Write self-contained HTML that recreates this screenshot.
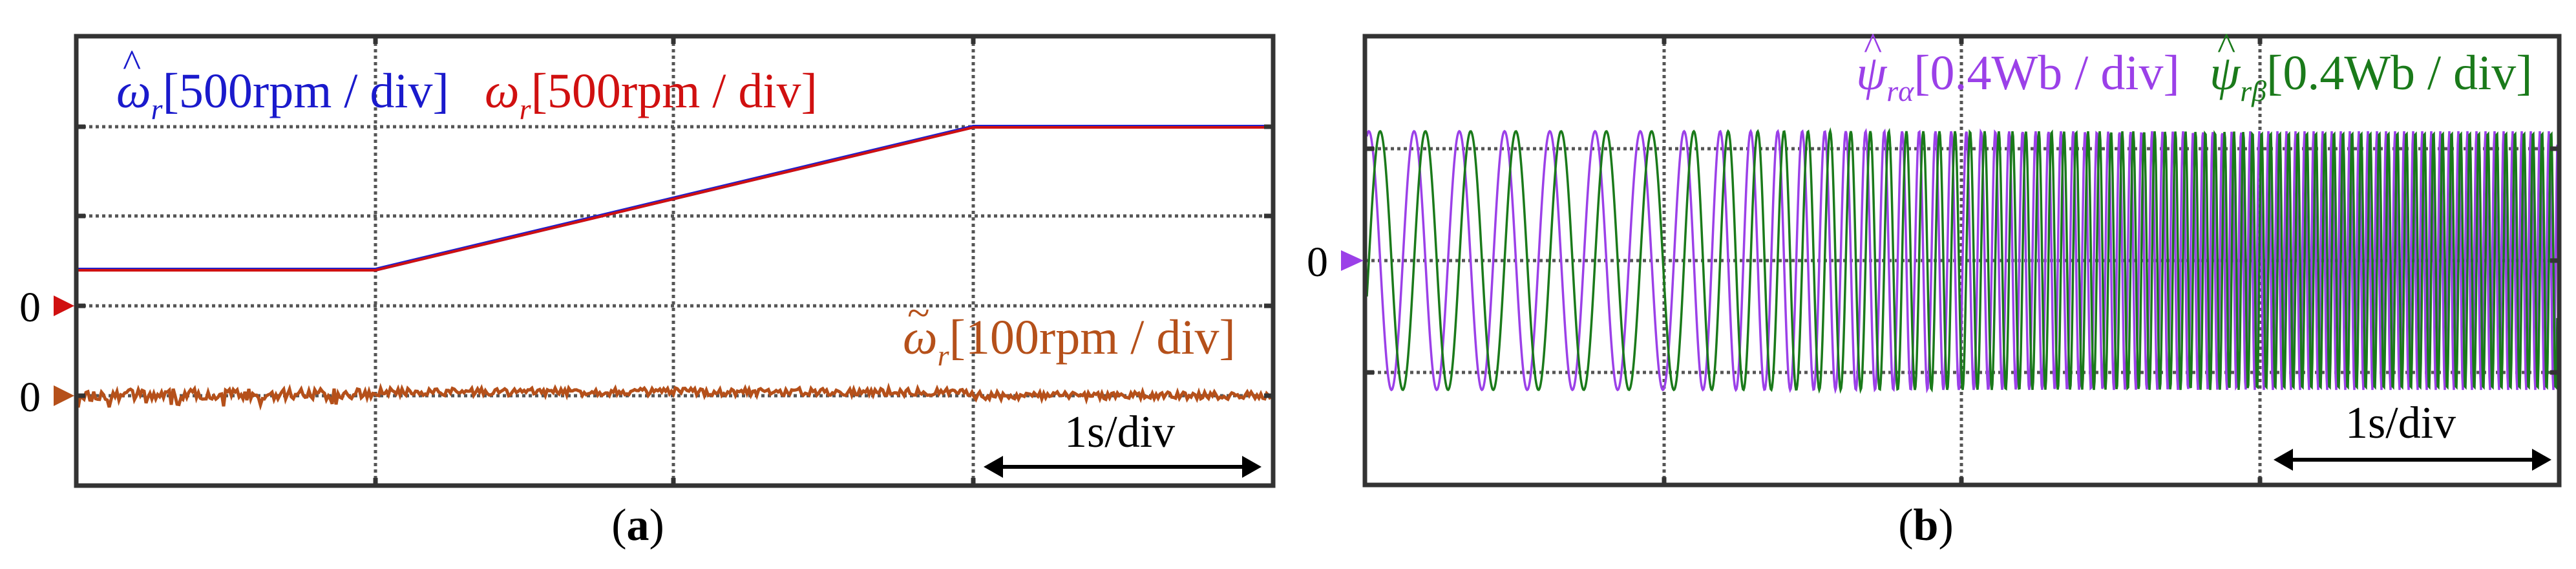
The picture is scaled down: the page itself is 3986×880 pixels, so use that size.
<!DOCTYPE html>
<html><head><meta charset="utf-8"><style>
html,body{margin:0;padding:0;background:#fff;}
svg{display:block;}
text{font-family:"Liberation Serif",serif;}
</style></head><body>
<svg id="s" width="3986" height="880" viewBox="0 0 3986 880" xmlns="http://www.w3.org/2000/svg">
<g stroke="#555" stroke-width="5" stroke-dasharray="5 5">
<line x1="581" y1="56" x2="581" y2="751"/><line x1="1042" y1="56" x2="1042" y2="751"/><line x1="1506" y1="56" x2="1506" y2="751"/>
<line x1="118" y1="196" x2="1970" y2="196"/><line x1="118" y1="334" x2="1970" y2="334"/><line x1="118" y1="473" x2="1970" y2="473"/><line x1="118" y1="612" x2="1970" y2="612"/>
<line x1="2575" y1="56" x2="2575" y2="750"/><line x1="3035" y1="56" x2="3035" y2="750"/><line x1="3497" y1="56" x2="3497" y2="750"/>
<line x1="2112" y1="230" x2="3960" y2="230"/><line x1="2112" y1="403" x2="3960" y2="403"/><line x1="2112" y1="576" x2="3960" y2="576"/>
</g>
<g id="b"></g>
<g stroke="#333" stroke-width="7">
<line x1="581" y1="56" x2="581" y2="68"/><line x1="1042" y1="56" x2="1042" y2="68"/><line x1="1506" y1="56" x2="1506" y2="68"/>
<line x1="581" y1="739" x2="581" y2="751"/><line x1="1042" y1="739" x2="1042" y2="751"/><line x1="1506" y1="739" x2="1506" y2="751"/>
<line x1="2575" y1="56" x2="2575" y2="68"/><line x1="3035" y1="56" x2="3035" y2="68"/><line x1="3497" y1="56" x2="3497" y2="68"/>
<line x1="2575" y1="738" x2="2575" y2="750"/><line x1="3035" y1="738" x2="3035" y2="750"/><line x1="3497" y1="738" x2="3497" y2="750"/>
<line x1="118" y1="196" x2="132" y2="196"/><line x1="118" y1="334" x2="132" y2="334"/><line x1="118" y1="473" x2="132" y2="473"/><line x1="118" y1="612" x2="132" y2="612"/>
<line x1="1956" y1="196" x2="1970" y2="196"/><line x1="1956" y1="334" x2="1970" y2="334"/><line x1="1956" y1="473" x2="1970" y2="473"/><line x1="1956" y1="612" x2="1970" y2="612"/>
<line x1="2112" y1="230" x2="2126" y2="230"/><line x1="2112" y1="576" x2="2126" y2="576"/>
<line x1="3946" y1="230" x2="3960" y2="230"/><line x1="3946" y1="403" x2="3960" y2="403"/><line x1="3946" y1="576" x2="3960" y2="576"/>
</g>
<rect x="118" y="56" width="1852" height="695" fill="none" stroke="#333" stroke-width="7"/>
<rect x="2112" y="56" width="1848" height="694" fill="none" stroke="#333" stroke-width="7"/>
<text x="180" y="166" font-size="76" fill="#1a1acc"><tspan font-style="italic">ω</tspan><tspan font-style="italic" font-size="46" dy="18">r</tspan><tspan dy="-18">[500rpm / div]</tspan></text>
<text x="190" y="118" font-size="60" fill="#1a1acc">^</text>
<text x="750" y="166" font-size="76" fill="#d01010"><tspan font-style="italic">ω</tspan><tspan font-style="italic" font-size="46" dy="18">r</tspan><tspan dy="-18">[500rpm / div]</tspan></text>
<text x="1397" y="547" font-size="76" fill="#b5501a"><tspan font-style="italic">ω</tspan><tspan font-style="italic" font-size="46" dy="18">r</tspan><tspan dy="-18">[100rpm / div]</tspan></text>
<text x="1404" y="505" font-size="64" fill="#b5501a">~</text>
<text x="2872" y="138" font-size="76" fill="#9b40e8"><tspan font-style="italic">ψ</tspan><tspan font-style="italic" font-size="46" dy="18">rα</tspan><tspan dy="-18">[0.4Wb / div]</tspan></text>
<text x="2884" y="92" font-size="60" fill="#9b40e8">^</text>
<text x="3419" y="138" font-size="76" fill="#1a7a1a"><tspan font-style="italic">ψ</tspan><tspan font-style="italic" font-size="46" dy="18">rβ</tspan><tspan dy="-18">[0.4Wb / div]</tspan></text>
<text x="3431" y="92" font-size="60" fill="#1a7a1a">^</text>
<text x="30" y="497" font-size="66">0</text><polygon points="83,457 115,473 83,489" fill="#d01010"/>
<text x="30" y="636" font-size="66">0</text><polygon points="83,596 115,612 83,628" fill="#b5501a"/>
<text x="2022" y="427" font-size="66">0</text><polygon points="2075,387 2110,403 2075,419" fill="#9b40e8"/>
<text x="1647" y="691" font-size="70">1s/div</text>
<text x="3629" y="677" font-size="70">1s/div</text>
<g stroke="#000" stroke-width="6"><line x1="1545" y1="722" x2="1930" y2="722"/><line x1="3540" y1="711" x2="3925" y2="711"/></g>
<polygon points="1522,722 1552,705 1552,739" /><polygon points="1952,722 1922,705 1922,739"/>
<polygon points="3518,711 3548,694 3548,728"/><polygon points="3948,711 3918,694 3918,728"/>
<text x="987" y="835" font-size="70" text-anchor="middle">(<tspan font-weight="bold">a</tspan>)</text>
<text x="2980" y="835" font-size="70" text-anchor="middle">(<tspan font-weight="bold">b</tspan>)</text>
</svg>
<script>
(function(){
var g=document.getElementById('b'),ns='http://www.w3.org/2000/svg';
function P(d,c,w){var p=document.createElementNS(ns,'path');p.setAttribute('d',d);p.setAttribute('stroke',c);p.setAttribute('stroke-width',w);p.setAttribute('fill','none');g.appendChild(p);}
var s=12345;function r(){s=(s*16807)%2147483647;return s/2147483647;}
var d='M118 608';for(var x=118;x<=1968;x+=3){var base=x<1506?(x<581?610:606):612;var a=x<581?9:6;var y=base+(r()-0.5)*a*2;if(x<581&&r()<0.08)y+=12;d+=' L'+x+' '+y.toFixed(1);}
P(d,'#b5501a',5);
P('M118 417 L581 417 L1506 196 L1968 196','#2020cc',6);
P('M118 418 L581 418 L1506 197 L1968 197','#d01010',4);
var f0=1/70,f1=5/70,ph=0,da='',db='';
for(var x=2115;x<=3957;x+=1){var f=x<2575?f0:(x<3497?f0+(f1-f0)*(x-2575)/922:f1);ph+=2*Math.PI*f;
var ya=403-200*Math.sin(ph+1.2),yb=403-200*Math.sin(ph+1.2-Math.PI/2);
da+=(x==2115?'M':' L')+x+' '+ya.toFixed(1);db+=(x==2115?'M':' L')+x+' '+yb.toFixed(1);}
P(da,'#9b40e8',3.5);P(db,'#1a7a1a',3.5);
})();
</script>
</body></html>
